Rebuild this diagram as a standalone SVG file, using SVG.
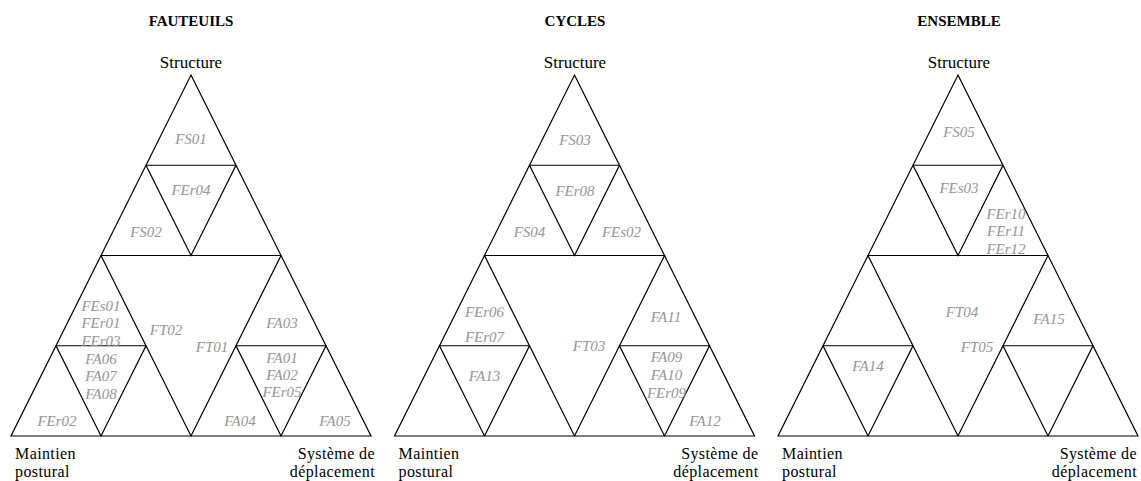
<svg xmlns="http://www.w3.org/2000/svg" xmlns:xlink="http://www.w3.org/1999/xlink" width="1141" height="481" viewBox="0 0 1141 481">
<style>
.grid{fill:none;stroke:#000;stroke-width:1.2;stroke-linejoin:miter}
.title{font-family:"Liberation Serif",serif;font-weight:bold;font-size:15px;text-anchor:middle;fill:#000}
.axis{font-family:"Liberation Serif",serif;font-size:17px;fill:#000}
.corner{font-family:"Liberation Serif",serif;font-size:16px;letter-spacing:0.4px;fill:#000}
.mid{text-anchor:middle}
.end{text-anchor:end}
.lbl{font-family:"Liberation Serif",serif;font-style:italic;font-size:15px;text-anchor:middle;fill:#969696}
</style>
<defs>
<path id="grid" class="grid" d="M191,75 L371,436 L11,436 Z M101,255.5 H281 L191,436 Z M146,165.25 H236 L191,255.5 Z M56,345.75 H146 L101,436 Z M236,345.75 H326 L281,436 Z"/>
</defs>
<rect width="1141" height="481" fill="#fff"/>
<g id="connectors">
<use xlink:href="#grid" href="#grid"/>
<use xlink:href="#grid" href="#grid" x="383.5"/>
<use xlink:href="#grid" href="#grid" x="767"/>
</g>
<g id="fauteuils">
<text class="title" x="191" y="26">FAUTEUILS</text>
<text class="axis mid" x="191" y="68">Structure</text>
<text class="corner" x="15" y="458.5">Maintien</text>
<text class="corner" x="15" y="476.5">postural</text>
<text class="corner end" x="375" y="458.5">Système de</text>
<text class="corner end" x="375" y="476.5">déplacement</text>
<text class="lbl" x="191" y="144">FS01</text>
<text class="lbl" x="191" y="195">FEr04</text>
<text class="lbl" x="146" y="237">FS02</text>
<text class="lbl" x="101" y="310.5">FEs01</text>
<text class="lbl" x="101" y="328">FEr01</text>
<text class="lbl" x="101" y="346">FEr03</text>
<text class="lbl" x="101" y="363.5">FA06</text>
<text class="lbl" x="101" y="381">FA07</text>
<text class="lbl" x="101" y="399">FA08</text>
<text class="lbl" x="57" y="426">FEr02</text>
<text class="lbl" x="166" y="334.5">FT02</text>
<text class="lbl" x="212" y="352">FT01</text>
<text class="lbl" x="282" y="328">FA03</text>
<text class="lbl" x="282" y="363">FA01</text>
<text class="lbl" x="282" y="380">FA02</text>
<text class="lbl" x="282" y="397">FEr05</text>
<text class="lbl" x="240" y="426">FA04</text>
<text class="lbl" x="335" y="426">FA05</text>
</g>
<g id="cycles">
<text class="title" x="575" y="26">CYCLES</text>
<text class="axis mid" x="575" y="68">Structure</text>
<text class="corner" x="398.5" y="458.5">Maintien</text>
<text class="corner" x="398.5" y="476.5">postural</text>
<text class="corner end" x="758.5" y="458.5">Système de</text>
<text class="corner end" x="758.5" y="476.5">déplacement</text>
<text class="lbl" x="575" y="144.5">FS03</text>
<text class="lbl" x="575" y="195.5">FEr08</text>
<text class="lbl" x="529.5" y="237">FS04</text>
<text class="lbl" x="621.5" y="237">FEs02</text>
<text class="lbl" x="484.5" y="316.5">FEr06</text>
<text class="lbl" x="484.5" y="342">FEr07</text>
<text class="lbl" x="484.5" y="380.5">FA13</text>
<text class="lbl" x="589" y="351">FT03</text>
<text class="lbl" x="666" y="322">FA11</text>
<text class="lbl" x="666.5" y="362">FA09</text>
<text class="lbl" x="666.5" y="380">FA10</text>
<text class="lbl" x="666.5" y="398">FEr09</text>
<text class="lbl" x="705" y="426">FA12</text>
</g>
<g id="ensemble">
<text class="title" x="959" y="26">ENSEMBLE</text>
<text class="axis mid" x="959" y="68">Structure</text>
<text class="corner" x="782" y="458.5">Maintien</text>
<text class="corner" x="782" y="476.5">postural</text>
<text class="corner end" x="1137" y="458.5">Système de</text>
<text class="corner end" x="1137" y="476.5">déplacement</text>
<text class="lbl" x="959" y="137">FS05</text>
<text class="lbl" x="959" y="193">FEs03</text>
<text class="lbl" x="1006" y="219">FEr10</text>
<text class="lbl" x="1006" y="236">FEr11</text>
<text class="lbl" x="1006" y="254">FEr12</text>
<text class="lbl" x="962" y="317">FT04</text>
<text class="lbl" x="977" y="352">FT05</text>
<text class="lbl" x="1049" y="323.5">FA15</text>
<text class="lbl" x="868" y="370.5">FA14</text>
</g>
</svg>
